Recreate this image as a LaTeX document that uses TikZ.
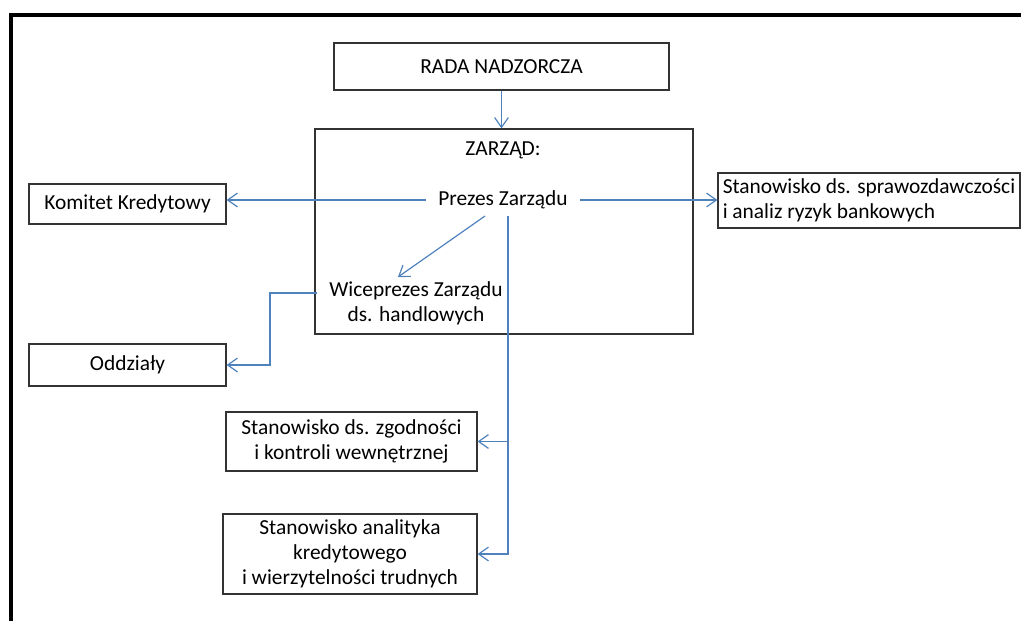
\documentclass[tikz,border=0pt]{standalone}
\usepackage{fontspec}
\setmainfont{Carlito}
\usetikzlibrary{arrows.meta}
\definecolor{linkblue}{RGB}{79,129,189}
\tikzset{
  box/.style={rectangle, draw=black!80, line width=0.6pt, align=center, inner sep=0pt},
  label text/.style={inner xsep=6pt, inner ysep=0pt, align=center},
  link/.style={draw=linkblue, line width=0.6pt, -{Straight Barb[angle=70:6pt]}}
}
\begin{document}
\begin{tikzpicture}[x=0.5pt, y=-0.5pt, font=\fontsize{10.7}{12.5}\selectfont]
  \useasboundingbox (0,0) rectangle (1021,621);
  \draw[line width=2pt] (10.5,621) -- (10.5,15) -- (1021,15);
  \node[box, minimum width=167.5pt, minimum height=23.5pt] (rada) at (501.5,66.5) {RADA NADZORCZA};
  \node[box, minimum width=189pt, minimum height=102.5pt] (zarzad) at (504,231.5) {};
  \node[label text] (zarzadtitle) at (503,150) {ZARZĄD:};
  \node[label text, minimum height=14pt] (prezes) at (503,200) {Prezes Zarządu};
  \node[label text, anchor=north west] (wice) at (317,281) {Wiceprezes Zarządu\\ds. handlowych};
  \node[box, minimum width=98.5pt, minimum height=20pt] (komitet) at (127.5,204) {Komitet Kredytowy};
  \node[box, minimum width=151pt, minimum height=27.5pt, align=left] (sprawozd) at (869,200.5) {Stanowisko ds. sprawozdawczości\\i analiz ryzyk bankowych};
  \node[box, minimum width=98.5pt, minimum height=21pt] (oddzialy) at (127.5,365) {Oddziały};
  \node[box, minimum width=125.5pt, minimum height=29.5pt] (zgodnosc) at (351.5,441.5) {Stanowisko ds. zgodności\\i kontroli wewnętrznej};
  \node[box, minimum width=127pt, minimum height=40pt] (analityk) at (350,554) {Stanowisko analityka\\kredytowego\\i wierzytelności trudnych};
  \coordinate (trunk) at (508,216);
  \coordinate (bend) at (270,293);
  \draw[link] (rada.south) -- (rada.south |- zarzad.north);
  \draw[link] (prezes.west) -- (prezes.west -| komitet.east);
  \draw[link] (prezes.east) -- (prezes.east -| sprawozd.west);
  \draw[link] (485,216) -- (398,277);
  \draw[link] (wice.west |- bend) -- (bend) -- (bend |- oddzialy.east) -- (oddzialy.east);
  \draw[link] (trunk) -- (trunk |- analityk.east) -- (analityk.east);
  \draw[link] (trunk |- zgodnosc.east) -- (zgodnosc.east);
\end{tikzpicture}
\end{document}
